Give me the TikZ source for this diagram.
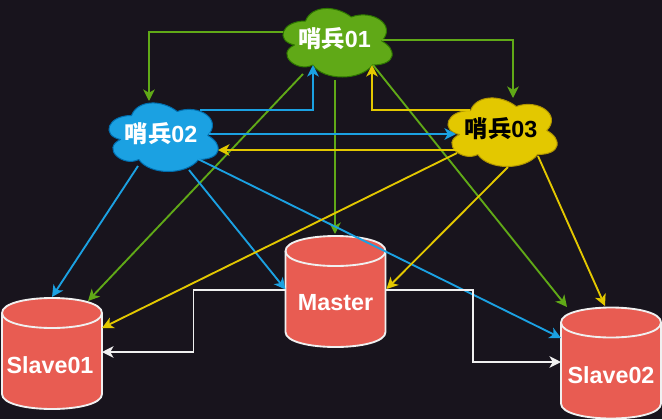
\documentclass[tikz,border=0pt]{standalone}
\usepackage{fontspec}
\setmainfont{Liberation Sans}
\newfontfamily\cjk{Noto Sans CJK SC}
\usetikzlibrary{arrows.meta}
\definecolor{bgc}{HTML}{18141D}
\definecolor{gn}{HTML}{60A917}
\definecolor{gnd}{HTML}{2D7600}
\definecolor{bl}{HTML}{1BA1E2}
\definecolor{bld}{HTML}{006EAF}
\definecolor{ye}{HTML}{E3C800}
\definecolor{yed}{HTML}{B09500}
\definecolor{rd}{HTML}{E85C52}
\definecolor{wh}{HTML}{F0F0F0}
\tikzset{
  lbl/.style={font=\fontsize{17.5pt}{20pt}\selectfont\bfseries,inner sep=0pt,text=#1},
  lbl/.default=white,
  edge/.style={draw=#1,line width=1.4pt,-{Stealth[length=8.6pt,width=8.6pt,inset=2.4pt]}},
  dbcyl/.style={fill=rd,draw=wh,line width=1.4pt,line join=round}
}
\newcommand{\cloudat}[4]{% x0,y0,fill,draw
  \begin{scope}[shift={(#1,#2)},xscale=122,yscale=80]
  \path[fill=#3,draw=#4,line width=.75pt,line join=round]
    (.25,.25) .. controls (.05,.25) and (0,.5) .. (.16,.55)
    .. controls (0,.66) and (.18,.9) .. (.31,.8)
    .. controls (.4,1) and (.7,1) .. (.8,.8)
    .. controls (1,.8) and (1,.6) .. (.875,.5)
    .. controls (1,.3) and (.8,.1) .. (.625,.2)
    .. controls (.5,.05) and (.3,.05) .. (.25,.25) -- cycle;
  \end{scope}}
\newcommand{\cylat}[2]{% x0,y0 ; 100x110
  \begin{scope}[shift={(#1,#2)}]
  \path[dbcyl] (0,15) .. controls (0,-5) and (100,-5) .. (100,15)
    -- (100,96) .. controls (100,116) and (0,116) .. (0,96) -- cycle;
  \path[draw=wh,line width=1.4pt] (0,15) .. controls (0,35) and (100,35) .. (100,15);
  \end{scope}}
\newcommand{\sbname}[1]{{\cjk 哨兵}#1}
\begin{document}
\begin{tikzpicture}[x=.75pt,y=-.75pt]
\useasboundingbox (0,0) rectangle (662,419);
\fill[bgc] (0,0) rectangle (662,419);
\cloudat{275}{1}{gn}{gnd}
\cloudat{101}{95.5}{bl}{bld}
\cloudat{440}{90.5}{ye}{yed}
\cylat{285.5}{236}
\cylat{2}{298}
\cylat{561}{307.5}
\node[lbl] (s1) at (334.5,39) {\sbname{01}};
\node[lbl] (s2) at (161,134) {\sbname{02}};
\node[lbl=black] (s3) at (501,129) {\sbname{03}};
\node[lbl] (m) at (335.5,303) {Master};
\node[lbl] (a) at (50,365) {Slave01};
\node[lbl] (b) at (611,375) {Slave02};
% green
\draw[edge=gn] ([shift={(-51.5,-7)}]s1.center) -| ([shift={(-12,-33)}]s2.center);
\draw[edge=gn] ([shift={(47.5,1)}]s1.center) -| ([shift={(12,-31)}]s3.center);
\draw[edge=gn] ([shift={(.5,41)}]s1.center) -- ([shift={(-.5,-69)}]m.center);
\draw[edge=gn] ([shift={(-31.5,35)}]s1.center) -- ([shift={(38,-64)}]a.center);
\draw[edge=gn] ([shift={(38.5,26)}]s1.center) -- ([shift={(-44,-68)}]b.center);
% blue
\draw[edge=bl] ([shift={(39,-24)}]s2.center) -| ([shift={(-21.5,26)}]s1.center);
\draw[edge=bl] ([shift={(48,0)}]s2.center) -- ([shift={(-45,5)}]s3.center);
\draw[edge=bl] ([shift={(-23,32)}]s2.center) -- ([shift={(2,-68)}]a.center);
\draw[edge=bl] ([shift={(28,36)}]s2.center) -- ([shift={(-50,-13.5)}]m.center);
\draw[edge=bl] ([shift={(37,25)}]s2.center) -- ([shift={(-50,-37)}]b.center);
% yellow
\draw[edge=ye] ([shift={(-31,-19)}]s3.center) -| ([shift={(37.5,26)}]s1.center);
\draw[edge=ye] ([shift={(-44,21)}]s3.center) -- ([shift={(57,16)}]s2.center);
\draw[edge=ye] ([shift={(-44,24)}]s3.center) -- ([shift={(52,-37)}]a.center);
\draw[edge=ye] ([shift={(7,38)}]s3.center) -- ([shift={(51,-14)}]m.center);
\draw[edge=ye] ([shift={(37,27)}]s3.center) -- ([shift={(-6,-69)}]b.center);
% white
\draw[edge=wh] ([shift={(-50,-13)}]m.center) -- ++(-92,0) |- ([shift={(52,-13)}]a.center);
\draw[edge=wh] ([shift={(50.5,-13)}]m.center) -- ++(87,0) |- ([shift={(-50,-13)}]b.center);
\end{tikzpicture}
\end{document}
